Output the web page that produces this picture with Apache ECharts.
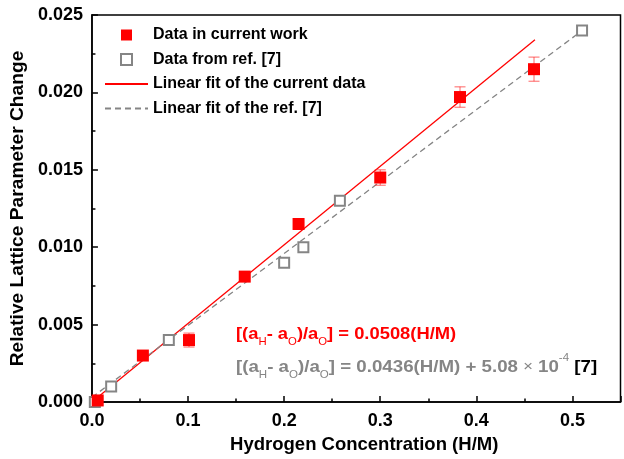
<!DOCTYPE html>
<html><head><meta charset="utf-8">
<script src="https://cdn.jsdelivr.net/npm/echarts@6/dist/echarts.min.js"></script>
<style>html,body{margin:0;padding:0;background:#fff}#c{width:624px;height:459px}</style>
</head><body><div id="c"></div>
<script>
// Data in current work
const curX = [0.006, 0.053, 0.101, 0.159, 0.215, 0.300, 0.383, 0.460];
const curY = [0.0001, 0.0030, 0.0040, 0.0081, 0.0115, 0.0145, 0.0197, 0.0215];
const curErr = [0.0001, 0.0001, 0.00045, 0.0001, 0.0001, 0.0005, 0.00066, 0.00078];
// Data from ref. [7]
const refX = [0.003, 0.020, 0.080, 0.200, 0.220, 0.258, 0.510];
const refY = [0.0000, 0.0010, 0.0040, 0.0090, 0.0100, 0.0130, 0.0240];
// Fit lines (end points)
const curFitX = [0, 0.461];
const curFitY = [0, 0.0234];
const refFitX = [0, 0.508];
const refFitY = [0.0003, 0.0239];
// Axes
const xTicks = [0, 0.1, 0.2, 0.3, 0.4, 0.5];
const yTicks = [0, 0.005, 0.01, 0.015, 0.02, 0.025];

const RED = '#ff0000', GRAY = '#858585';
const FONT = 'Liberation Sans, Arial, sans-serif';
const SQUARE = 'path://M0,0 L10,0 L10,10 L0,10 Z';
const pairs = (xs, ys) => xs.map((x, i) => [x, ys[i]]);

const chart = echarts.init(document.getElementById('c'), null, {renderer: 'canvas'});
chart.setOption({
  animation: false,
  backgroundColor: '#fff',
  grid: {left: 91, right: 3.5, top: 15, bottom: 55, show: true, borderColor: '#000', borderWidth: 1.5, backgroundColor: 'transparent'},
  legend: {
    left: 99, top: 22, orient: 'vertical', itemWidth: 43, itemHeight: 11, itemGap: 8.5, symbolKeepAspect: true,
    data: [
      {name: 'Data in current work', icon: SQUARE},
      {name: 'Data from ref. [7]', icon: SQUARE},
      {name: 'Linear fit of the current data', itemStyle: {opacity: 0}},
      {name: 'Linear fit of the ref. [7]', itemStyle: {opacity: 0}}
    ],
    textStyle: {fontFamily: FONT, fontWeight: 'bold', fontSize: 16, color: '#000', lineHeight: 16}
  },
  xAxis: {
    type: 'value', min: 0, max: 0.55, interval: 0.1,
    name: 'Hydrogen Concentration (H/M)', nameLocation: 'middle', nameGap: 33,
    nameTextStyle: {fontFamily: FONT, fontWeight: 'bold', fontSize: 18.5, color: '#000', padding: [0, 0, 0, 16]},
    axisLine: {lineStyle: {color: '#000', width: 1.5}},
    axisTick: {inside: true, length: 6, lineStyle: {color: '#000', width: 1.5}},
    minorTick: {show: true, splitNumber: 2, length: 3.5, lineStyle: {color: '#000', width: 1.5}},
    splitLine: {show: false},
    axisLabel: {fontFamily: FONT, fontWeight: 'bold', fontSize: 18, color: '#000', margin: 10,
      formatter: v => xTicks.some(t => Math.abs(t - v) < 1e-9) ? v.toFixed(1) : ''}
  },
  yAxis: {
    type: 'value', min: 0, max: 0.025, interval: 0.005,
    name: 'Relative Lattice Parameter Change', nameLocation: 'middle', nameGap: 62,
    nameTextStyle: {fontFamily: FONT, fontWeight: 'bold', fontSize: 19.2, color: '#000'},
    axisLine: {lineStyle: {color: '#000', width: 1.5}},
    axisTick: {inside: true, length: 6, lineStyle: {color: '#000', width: 1.5}},
    minorTick: {show: true, splitNumber: 2, length: 3.5, lineStyle: {color: '#000', width: 1.5}},
    splitLine: {show: false},
    axisLabel: {fontFamily: FONT, fontWeight: 'bold', fontSize: 18, color: '#000', margin: 9,
      formatter: v => yTicks.some(t => Math.abs(t - v) < 1e-12) ? v.toFixed(3) : ''}
  },
  series: [
    {
      name: 'Linear fit of the current data', type: 'line', data: pairs(curFitX, curFitY),
      symbol: 'none', z: 2, lineStyle: {color: RED, width: 1.3}, itemStyle: {color: RED}
    },
    {
      name: 'Linear fit of the ref. [7]', type: 'line', data: pairs(refFitX, refFitY),
      symbol: 'none', z: 2, lineStyle: {color: GRAY, width: 1.3, type: [6, 4]}, itemStyle: {color: GRAY}
    },
    {
      name: 'errors', type: 'custom', z: 3,
      data: curX.map((x, i) => [x, curY[i], curErr[i]]),
      renderItem: function (params, api) {
        const x = api.value(0), y = api.value(1), e = api.value(2);
        const t = api.coord([x, y + e]), b = api.coord([x, y - e]);
        const st = {stroke: 'rgba(255,40,40,0.6)', lineWidth: 1.2};
        return {type: 'group', children: [
          {type: 'line', shape: {x1: t[0], y1: t[1], x2: b[0], y2: b[1]}, style: st},
          {type: 'line', shape: {x1: t[0] - 5.5, y1: t[1], x2: t[0] + 5.5, y2: t[1]}, style: st},
          {type: 'line', shape: {x1: b[0] - 5.5, y1: b[1], x2: b[0] + 5.5, y2: b[1]}, style: st}
        ]};
      }
    },
    {
      name: 'Data from ref. [7]', type: 'scatter', data: pairs(refX, refY), z: 4,
      symbol: 'rect', symbolSize: 10, clip: false,
      itemStyle: {color: '#fff', borderColor: GRAY, borderWidth: 2, opacity: 1}
    },
    {
      name: 'Data in current work', type: 'scatter', data: pairs(curX, curY), z: 5,
      symbol: 'rect', symbolSize: 12, clip: false,
      itemStyle: {color: RED, opacity: 1}
    }
  ],
  graphic: [
    {
      type: 'text', left: 236, top: 326, scaleX: 1.08,
      style: {
        text: '{m|[(a}{s|H}{m|- a}{s|O}{m|)/a}{s|O}{m|] = 0.0508(H/M)}',
        rich: {
          m: {fontFamily: FONT, fontWeight: 'bold', fontSize: 17, fill: RED, lineHeight: 26, verticalAlign: 'middle'},
          s: {fontFamily: FONT, fontWeight: 'normal', fontSize: 10.5, fill: RED, lineHeight: 11, verticalAlign: 'bottom'}
        }
      }
    },
    {
      type: 'text', left: 236, top: 353, scaleX: 1.1,
      style: {
        text: '{m|[(a}{s|H}{m|- a}{s|O}{m|)/a}{s|O}{m|] = 0.0436(H/M) + 5.08 }{x|×}{m| 10}{p|-4}{k| [7]}',
        rich: {
          m: {fontFamily: FONT, fontWeight: 'bold', fontSize: 17, fill: GRAY, lineHeight: 28, verticalAlign: 'middle'},
          s: {fontFamily: FONT, fontWeight: 'normal', fontSize: 10.5, fill: GRAY, lineHeight: 11, verticalAlign: 'bottom'},
          x: {fontFamily: FONT, fontWeight: 'normal', fontSize: 15, fill: GRAY, lineHeight: 28, verticalAlign: 'middle'},
          p: {fontFamily: FONT, fontWeight: 'normal', fontSize: 10.5, fill: GRAY, lineHeight: 11, verticalAlign: 'top'},
          k: {fontFamily: FONT, fontWeight: 'bold', fontSize: 17, fill: '#000', lineHeight: 28, verticalAlign: 'middle'}
        }
      }
    }
  ]
});
</script>
</body></html>
